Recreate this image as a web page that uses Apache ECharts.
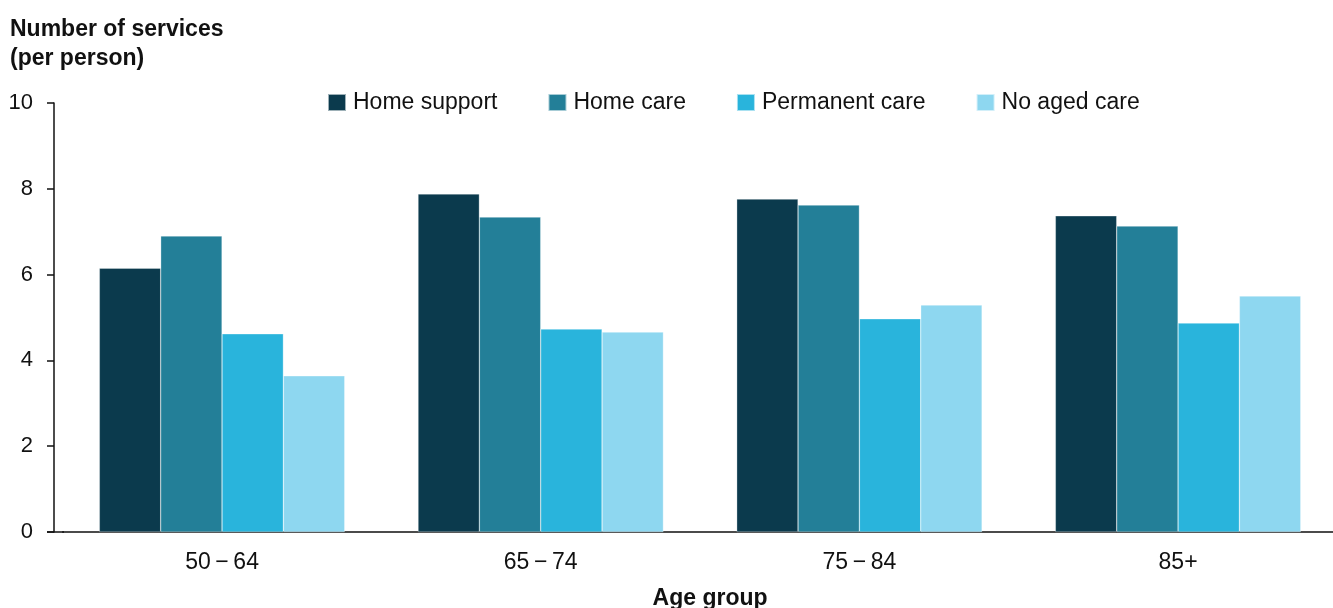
<!DOCTYPE html>
<html>
<head>
<meta charset="utf-8">
<script src="https://cdn.jsdelivr.net/npm/echarts@6/dist/echarts.min.js"></script>
<style>
  html, body { margin: 0; padding: 0; background: #fff; }
  #chart { width: 1333px; height: 608px; }
</style>
</head>
<body>
<div id="chart"></div>
<script>
// Average number of services per person, by age group and aged-care status
const ageGroups = ['50\u2009\u2212\u200964', '65\u2009\u2212\u200974', '75\u2009\u2212\u200984', '85+'];
const homeSupport = [6.15, 7.88, 7.76, 7.37];
const homeCare = [6.90, 7.34, 7.62, 7.13];
const permanentCare = [4.62, 4.73, 4.97, 4.87];
const noAgedCare = [3.64, 4.66, 5.29, 5.50];
const yTicks = [0, 2, 4, 6, 8, 10];

const FONT = '"Liberation Sans", Arial, sans-serif';
const INK = '#111';
const colors = ['#0b3a4d', '#237f98', '#29b4dc', '#8ed7f0'];

const seriesDefs = [
  ['Home support', homeSupport],
  ['Home care', homeCare],
  ['Permanent care', permanentCare],
  ['No aged care', noAgedCare]
];

const chart = echarts.init(document.getElementById('chart'), null, { renderer: 'canvas' });

chart.setOption({
  animation: false,
  color: colors,
  textStyle: { fontFamily: FONT },
  title: {
    text: 'Number of services\n(per person)',
    left: 10,
    top: 15,
    padding: 0,
    textStyle: { fontFamily: FONT, fontSize: 23, fontWeight: 'bold', color: INK, lineHeight: 29 }
  },
  legend: {
    left: 327,
    top: 91,
    padding: 0,
    itemWidth: 18,
    itemHeight: 17,
    itemGap: 50,
    icon: 'rect',
    textStyle: { fontFamily: FONT, fontSize: 23, color: INK, padding: [0, 0, 0, 2] },
    data: seriesDefs.map(d => d[0])
  },
  grid: {
    left: 62.7, top: 103, bottom: 76, width: 1274.7,
    containLabel: false,
    outerBoundsMode: 'none'
  },
  xAxis: {
    type: 'category',
    data: ageGroups,
    name: 'Age group',
    nameLocation: 'middle',
    nameGap: 55,
    nameTextStyle: { fontFamily: FONT, fontSize: 23, fontWeight: 'bold', color: INK, padding: [0, 0, 0, 20] },
    axisLine: { lineStyle: { color: INK, width: 1.5 } },
    axisTick: { show: false },
    axisLabel: { fontFamily: FONT, fontSize: 23, color: INK, margin: 19 }
  },
  yAxis: {
    type: 'value',
    min: yTicks[0],
    max: yTicks[yTicks.length - 1],
    interval: 2,
    offset: 8.7,
    splitLine: { show: false },
    axisLine: { show: true, lineStyle: { color: INK, width: 1.5 } },
    axisTick: { show: true, length: 7, lineStyle: { color: INK, width: 1.5 } },
    axisLabel: { fontFamily: FONT, fontSize: 22, color: INK, margin: 21 }
  },
  graphic: [{
    // joins the x axis baseline to the offset y axis
    type: 'line',
    shape: { x1: 47, y1: 532, x2: 64, y2: 532 },
    style: { stroke: INK, lineWidth: 1.5 },
    z: 10
  }],
  series: seriesDefs.map(([name, values]) => ({
    name,
    type: 'bar',
    data: values,
    barGap: '0%',
    barCategoryGap: '23%',
    itemStyle: { borderColor: 'rgba(255,255,255,0.6)', borderWidth: 0.5 }
  }))
});
</script>
</body>
</html>
